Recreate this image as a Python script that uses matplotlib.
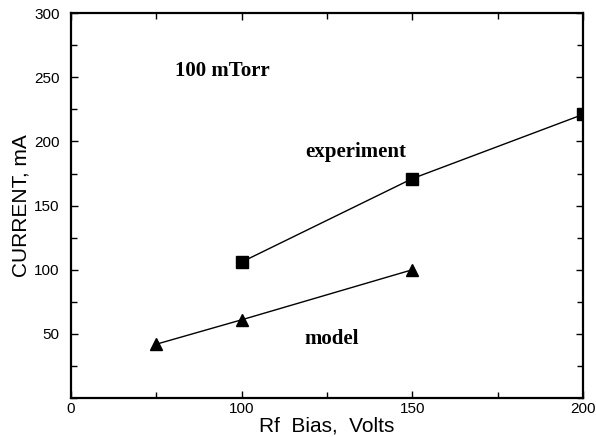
import matplotlib
matplotlib.use("Agg")
import matplotlib.pyplot as plt
from matplotlib.ticker import MultipleLocator

# data
exp_bias = [100, 150, 200]
exp_current = [106, 171, 221]
model_bias = [75, 100, 150]
model_current = [42, 61, 100]

xticks = [50, 100, 150, 200]
xlabels = ["0", "100", "150", "200"]
yticks = [50, 100, 150, 200, 250, 300]

plt.rcParams['font.family'] = ['Liberation Sans', 'DejaVu Sans']

fig = plt.figure(figsize=(5.96, 4.37), dpi=100)
ax = fig.add_axes([0.119, 0.089, 0.859, 0.881])

ax.plot(exp_bias, exp_current, color='black', lw=1.0, marker='s', ms=8.5)
ax.plot(model_bias, model_current, color='black', lw=1.0, marker='^', ms=9)

ax.set_xlim(50, 200)
ax.set_ylim(0, 300)
ax.set_xticks(xticks)
ax.set_xticklabels(xlabels)
ax.set_yticks(yticks)
ax.xaxis.set_minor_locator(MultipleLocator(25))
ax.yaxis.set_minor_locator(MultipleLocator(25))
ax.tick_params(which='both', direction='in', top=True, right=True, labelsize=11, length=5, width=1)
ax.tick_params(axis='y', pad=8)
ax.tick_params(axis='x', pad=3)
ax.tick_params(which='minor', length=4)
for s in ax.spines.values():
    s.set_linewidth(1.6)

ax.set_xlabel("Rf  Bias,  Volts", fontsize=15, labelpad=0)
ax.set_ylabel("CURRENT, mA", fontsize=15, labelpad=3)

serif = ['Liberation Serif', 'DejaVu Serif']
ax.text(80.5, 255, "100 mTorr", family=serif, fontweight='bold', fontsize=15, va='center')
ax.text(133.5, 192, "experiment", family=serif, fontweight='bold', fontsize=15, ha='center', va='center')
ax.text(126.5, 46, "model", family=serif, fontweight='bold', fontsize=15, ha='center', va='center')

fig.savefig("out.png", dpi=100)
